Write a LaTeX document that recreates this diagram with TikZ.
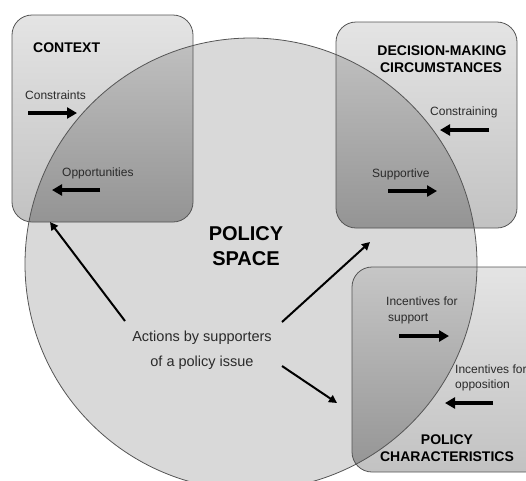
\documentclass[tikz,border=0pt]{standalone}
\usepackage{fontspec}
\setmainfont{Liberation Sans}
\usetikzlibrary{arrows.meta}
\definecolor{circfill}{HTML}{D9D9D9}
\definecolor{outtop}{HTML}{E4E4E4}
\definecolor{outbot}{HTML}{C2C2C2}
\definecolor{intop}{HTML}{C6C6C6}
\definecolor{inbot}{HTML}{949494}
\definecolor{edge}{HTML}{555555}
\definecolor{txt}{HTML}{2A2A2A}
\begin{document}
\begin{tikzpicture}[x=1pt,y=-1pt,
  lbl/.style={font=\fontsize{12}{14}\selectfont, text=txt, inner sep=0pt, anchor=base west},
  head/.style={font=\bfseries\fontsize{14}{17}\selectfont, text=black, inner sep=0pt, anchor=base},
  big/.style={font=\bfseries\fontsize{20}{24}\selectfont, text=black, inner sep=0pt, anchor=base},
  act/.style={font=\fontsize{14.5}{17}\selectfont, text=txt, inner sep=0pt, anchor=base},
  harrow/.style={line width=3.5pt, -{Triangle[length=10pt,width=11pt]}},
  darrow/.style={line width=2pt, -{Triangle[length=8pt,width=8pt]}},
  boxline/.style={draw=edge, line width=0.8pt, rounded corners=20pt},
  boxout/.style={top color=outtop, bottom color=outbot, rounded corners=20pt},
  boxin/.style={top color=intop, bottom color=inbot, rounded corners=20pt}]
\useasboundingbox (0,0) rectangle (526,480);
\clip (0,0) rectangle (526,480);
% policy space circle
\fill[circfill] (251,264) circle[radius=226];
% boxes (outside part)
\shade[boxout] (12,15) rectangle (193,222);
\shade[boxout] (336,22) rectangle (517,228);
\shade[boxout] (352,267) rectangle (545,472);
% boxes (overlap with circle)
\begin{scope}
  \clip (251,264) circle[radius=226];
  \shade[boxin] (12,15) rectangle (193,222);
  \shade[boxin] (336,22) rectangle (517,228);
  \shade[boxin] (352,267) rectangle (545,472);
\end{scope}
% outlines
\draw[edge, line width=0.8pt] (251,264) circle[radius=226];
\draw[boxline] (12,15) rectangle (193,222);
\draw[boxline] (336,22) rectangle (517,228);
\draw[boxline] (352,267) rectangle (545,472);

% CONTEXT box
\node[head, anchor=base west] (ctx) at (33,52) {CONTEXT};
\node[lbl] (constr) at (25,99) {Constraints};
\coordinate (c1a) at (28,113); \coordinate (c1b) at (77,113);
\draw[harrow] (c1a) -- (c1b);
\node[lbl] (opp) at (62,176) {Opportunities};
\coordinate (c2a) at (100,190); \coordinate (c2b) at (52,190);
\draw[harrow] (c2a) -- (c2b);

% DECISION-MAKING box
\node[head] (dm1) at (442,55) {DECISION-MAKING};
\node[head] (dm2) at (441,72) {CIRCUMSTANCES};
\node[lbl] (cons) at (430,115) {Constraining};
\coordinate (d1a) at (489,130); \coordinate (d1b) at (440,130);
\draw[harrow] (d1a) -- (d1b);
\node[lbl] (sup) at (372,177) {Supportive};
\coordinate (d2a) at (388,191); \coordinate (d2b) at (437,191);
\draw[harrow] (d2a) -- (d2b);

% POLICY CHARACTERISTICS box
\node[lbl] (is1) at (386,305) {Incentives for};
\node[lbl] (is2) at (388,321) {support};
\coordinate (p1a) at (399,336); \coordinate (p1b) at (449,336);
\draw[harrow] (p1a) -- (p1b);
\node[lbl] (io1) at (455,373) {Incentives for};
\node[lbl] (io2) at (455,388) {opposition};
\coordinate (p2a) at (493,403); \coordinate (p2b) at (445,403);
\draw[harrow] (p2a) -- (p2b);
\node[head] (pc1) at (447,444) {POLICY};
\node[head] (pc2) at (447,461) {CHARACTERISTICS};

% POLICY SPACE
\node[big] (ps1) at (246,240) {POLICY};
\node[big] (ps2) at (246,265) {SPACE};

% Actions
\node[act] (act1) at (202,341) {Actions by supporters};
\node[act] (act2) at (202,366) {of a policy issue};
\coordinate (a1s) at (125,321); \coordinate (a1e) at (50,222);
\coordinate (a2s) at (282,322); \coordinate (a2e) at (370,242);
\coordinate (a3s) at (282,366); \coordinate (a3e) at (337,403);
\draw[darrow] (a1s) -- (a1e);
\draw[darrow] (a2s) -- (a2e);
\draw[darrow] (a3s) -- (a3e);
\end{tikzpicture}
\end{document}
